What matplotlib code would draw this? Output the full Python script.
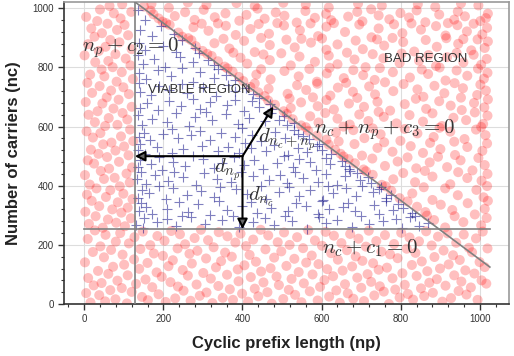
import matplotlib
matplotlib.use("Agg")
import matplotlib.pyplot as plt
from matplotlib.ticker import MultipleLocator

plt.rcParams['font.family'] = ['Liberation Sans', 'DejaVu Sans']
plt.rcParams['mathtext.fontset'] = 'cm'

# bad samples below nc + c1 = 0
low_np = [
    2, 5, 9, 10, 16, 22, 24, 27, 35, 38, 41, 44, 50, 53, 54, 61, 66, 68, 73, 79,
    80, 84, 91, 95, 97, 101, 108, 110, 113, 120, 126, 127, 131, 139, 142, 146, 148, 155, 160, 161,
    167, 172, 176, 183, 185, 188, 196, 199, 203, 206, 213, 218, 220, 224, 230, 236, 237, 242, 249, 251,
    255, 262, 266, 269, 272, 279, 284, 286, 292, 295, 301, 308, 309, 313, 320, 324, 327, 333, 339, 340,
    346, 350, 356, 361, 362, 368, 373, 376, 382, 388, 390, 395, 399, 405, 409, 414, 418, 421, 427, 431,
    434, 440, 446, 447, 453, 458, 463, 465, 471, 474, 480, 486, 489, 492, 498, 503, 505, 511, 517, 519,
    524, 531, 533, 538, 542, 549, 553, 555, 561, 566, 570, 575, 577, 583, 590, 592, 596, 601, 607, 610,
    614, 619, 624, 629, 631, 637, 641, 646, 650, 653, 659, 664, 666, 672, 677, 680, 686, 690, 693, 700,
    703, 707, 712, 716, 719, 725, 730, 733, 738, 744, 747, 751, 757, 760, 765, 770, 773, 779, 783, 786,
    792, 797, 801, 804, 810, 815, 818, 822, 828, 831, 837, 840, 846, 851, 853, 859, 864, 867, 872, 878,
    881, 885, 891, 894, 899, 905, 908, 913, 918, 921, 927, 932, 935, 940, 946, 949, 953, 959, 963, 966,
    972, 977, 980, 986, 990, 994, 999, 1004, 1007, 1012, 1016, 1019,
]
low_nc = [
    141, 37, 220, 88, 5, 176, 63, 249, 112, 30, 195, 71, 158, 9, 234, 102, 47, 183, 126, 16,
    211, 79, 240, 54, 167, 133, 2, 97, 205, 41, 151, 226, 68, 119, 186, 24, 245, 83, 139, 13,
    199, 57, 171, 107, 230, 33, 92, 163, 214, 7, 128, 74, 247, 148, 19, 188, 59, 236, 115, 45,
    202, 96, 170, 11, 137, 223, 66, 180, 28, 251, 105, 154, 39, 216, 86, 3, 192, 124, 61, 243,
    145, 21, 174, 99, 229, 50, 160, 14, 208, 117, 77, 238, 35, 131, 196, 8, 166, 91, 218, 52,
    143, 26, 251, 110, 73, 185, 40, 232, 121, 1, 157, 93, 209, 64, 178, 17, 242, 129, 48, 200,
    85, 153, 31, 226, 108, 6, 189, 70, 140, 250, 43, 164, 100, 215, 12, 135, 58, 197, 81, 244,
    118, 25, 172, 94, 231, 46, 150, 4, 206, 113, 67, 182, 36, 237, 127, 18, 161, 89, 221, 55,
    146, 10, 194, 101, 248, 75, 138, 29, 213, 116, 60, 177, 42, 233, 123, 0, 168, 87, 203, 49,
    155, 22, 241, 104, 65, 187, 34, 225, 132, 15, 173, 95, 212, 53, 144, 27, 246, 111, 72, 198,
    38, 159, 84, 228, 120, 8, 181, 62, 239, 134, 20, 165, 97, 207, 44, 149, 76, 235, 114, 32,
    190, 56, 175, 103, 222, 14, 142, 80, 245, 125, 69, 188,
]

# bad samples left of np + c2 = 0
left_nc = [
    258, 263, 271, 275, 286, 290, 297, 309, 312, 320, 326, 331, 344, 349, 355, 362, 370, 373, 385, 391,
    398, 404, 411, 423, 427, 436, 441, 450, 458, 462, 475, 481, 486, 497, 503, 508, 519, 522, 533, 540,
    546, 551, 563, 567, 578, 584, 590, 602, 606, 615, 624, 629, 640, 646, 652, 661, 667, 678, 683, 691,
    699, 710, 714, 722, 733, 737, 748, 752, 761, 770, 776, 784, 793, 801, 807, 818, 822, 830, 841, 845,
    856, 862, 870, 879, 885, 893, 904, 909, 916, 927, 932, 944, 948, 957, 966, 971, 983, 988, 996, 1008,
    1014,
]
left_np = [
    47, 103, 12, 81, 60, 118, 29, 94, 3, 71, 110, 38, 85, 19, 122, 55, 7, 99, 66, 31,
    90, 14, 115, 50, 77, 2, 107, 42, 63, 121, 25, 88, 9, 58, 112, 36, 79, 17, 101, 48,
    69, 124, 22, 93, 41, 6, 116, 53, 84, 27, 109, 62, 11, 97, 34, 74, 120, 46, 4, 87,
    57, 113, 20, 68, 99, 39, 8, 82, 123, 51, 15, 95, 44, 72, 117, 28, 61, 105, 1, 79,
    37, 120, 54, 10, 89, 66, 26, 111, 45, 83, 18, 102, 59, 33, 92, 5, 75, 119, 40, 64,
    96,
]

# bad samples above nc + np + c3 = 0, (np, nc)
high_points = [
    (912, 259), (1003, 266), (958, 277), (884, 284), (1017, 291), (936, 297), (866, 299),
    (987, 303), (862, 311), (930, 318), (1012, 322), (841, 329), (901, 336), (969, 341), (817, 347), (1020, 349),
    (880, 352), (797, 358), (1009, 361), (944, 368), (829, 374), (776, 383), (991, 386), (912, 391), (858, 395),
    (762, 398), (1018, 399),
    (752, 403), (925, 405), (836, 412), (1004, 417), (781, 422), (968, 426), (880, 431), (729, 437), (1019, 440),
    (806, 443), (945, 446), (712, 449), (861, 450),
    (981, 452), (706, 455), (839, 459), (917, 463), (760, 467), (1012, 470), (684, 476), (873, 479), (792, 482),
    (951, 486), (668, 490), (728, 492), (996, 494), (817, 496), (894, 498), (655, 499),
    (702, 502), (937, 504), (648, 508), (856, 511), (779, 515), (1006, 518), (634, 521), (900, 524), (741, 528),
    (968, 531), (825, 534), (618, 539), (683, 541), (1018, 543), (874, 545), (758, 547), (935, 549), (643, 550),
    (799, 552), (612, 556), (961, 558), (708, 561), (883, 565), (588, 569), (1014, 571), (749, 574), (842, 577),
    (636, 580), (925, 583), (566, 586), (680, 588), (990, 590), (810, 592), (729, 594), (898, 596), (560, 598),
    (1003, 599), (655, 600),
    (904, 602), (548, 604), (671, 607), (1008, 609), (789, 611), (592, 614), (856, 617), (718, 619), (965, 622),
    (527, 625), (640, 627), (933, 630), (757, 633), (571, 635), (1019, 637), (822, 639), (695, 641), (512, 643),
    (880, 645), (609, 646), (987, 648), (744, 650),
    (504, 652), (773, 654), (954, 656), (631, 658), (864, 660), (522, 663), (1011, 665), (707, 667), (590, 669),
    (926, 671), (482, 674), (810, 676), (669, 678), (985, 680), (548, 682), (741, 684), (897, 686), (465, 688),
    (612, 690), (1020, 692), (838, 694), (519, 695), (690, 697), (952, 698), (578, 699),
    (857, 701), (456, 703), (622, 705), (993, 707), (735, 709), (514, 711), (910, 713), (440, 716), (679, 718),
    (781, 720), (1015, 722), (561, 724), (842, 726), (466, 728), (957, 730), (641, 732), (420, 734), (720, 736),
    (885, 738), (538, 740), (1001, 742), (807, 744), (589, 745), (431, 746), (936, 747), (662, 748), (760, 750),
    (588, 752), (402, 754), (913, 756), (734, 758), (471, 760), (1010, 762), (656, 764), (823, 766), (391, 768),
    (542, 770), (968, 772), (705, 774), (435, 776), (869, 778), (613, 780), (1019, 782), (780, 784), (375, 786),
    (506, 788), (941, 790), (680, 791), (853, 793), (447, 794), (569, 795), (995, 796), (362, 797), (747, 798),
    (620, 799), (898, 800),
    (711, 801), (355, 803), (889, 805), (522, 807), (1003, 809), (640, 811), (412, 813), (797, 815), (958, 817),
    (583, 819), (338, 821), (846, 823), (469, 825), (683, 827), (1017, 829), (756, 831), (395, 833), (917, 835),
    (544, 837), (322, 839), (618, 840), (870, 842), (984, 843), (453, 844), (729, 845), (311, 846), (802, 847),
    (498, 848), (941, 849), (664, 850), (377, 850),
    (431, 852), (834, 854), (299, 856), (978, 858), (612, 860), (704, 862), (367, 864), (1012, 866), (532, 868),
    (891, 870), (282, 872), (758, 874), (469, 876), (640, 878), (945, 880), (329, 882), (573, 884), (806, 886),
    (1020, 888), (404, 890), (686, 891), (271, 892), (863, 893), (511, 894), (740, 895), (958, 896), (352, 897),
    (601, 898), (263, 899), (915, 899), (447, 900), (779, 900), (549, 897), (994, 895),
    (726, 902), (248, 904), (591, 906), (913, 908), (383, 910), (1006, 912), (467, 914), (804, 916), (238, 918),
    (659, 920), (967, 922), (314, 924), (545, 926), (851, 928), (420, 930), (744, 932), (1018, 934), (276, 936),
    (612, 938), (889, 940), (358, 941), (505, 942), (943, 943), (216, 944), (695, 945), (783, 946), (441, 947),
    (984, 948), (297, 948), (572, 949), (827, 949), (631, 950), (207, 950), (919, 950), (488, 950), (338, 949),
    (537, 952), (862, 953), (198, 955), (703, 956), (1001, 957), (392, 958), (624, 960), (279, 961), (935, 962),
    (771, 963), (456, 965), (188, 966), (1015, 967), (583, 968), (821, 969), (330, 970), (667, 972), (962, 973),
    (229, 974), (506, 975), (744, 976), (410, 978), (897, 979), (175, 980), (611, 981), (1020, 982), (357, 983),
    (799, 984), (484, 986), (255, 987), (690, 988), (944, 989), (559, 991), (168, 992), (840, 993), (302, 995),
    (725, 997), (438, 999),
    (214, 1002), (618, 1003), (887, 1005), (151, 1006), (431, 1008), (752, 1009), (996, 1010), (309, 1012),
    (560, 1013), (843, 1014), (170, 1015), (692, 1016), (952, 1017), (385, 1018), (503, 1019), (262, 1020),
]

# viable samples, (np, nc)
blue_points = [
    (562, 255), (148, 257), (803, 258), (391, 260), (677, 262), (233, 263), (846, 265), (479, 267), (131, 268),
    (720, 270), (305, 272), (611, 273), (868, 275), (427, 276), (184, 278), (756, 280), (525, 282), (349, 283),
    (640, 285), (209, 287), (788, 288), (458, 290), (152, 292), (593, 293), (822, 294), (271, 296), (700, 297),
    (375, 298), (507, 299), (837, 299), (246, 299),
    (318, 301), (745, 303), (172, 304), (592, 306), (437, 308), (829, 309), (263, 311), (684, 313), (139, 314),
    (515, 316), (781, 318), (360, 319), (619, 321), (210, 323), (806, 324), (472, 326), (653, 328), (155, 329),
    (561, 331), (398, 333), (731, 335), (287, 337), (792, 338), (536, 340), (143, 342), (667, 343), (421, 345),
    (240, 346), (600, 348), (762, 349), (341, 350),
    (604, 352), (207, 354), (459, 356), (763, 358), (136, 360), (329, 362), (688, 364), (542, 366), (260, 368),
    (776, 370), (411, 372), (165, 374), (628, 376), (491, 378), (729, 380), (296, 382), (571, 384), (147, 386),
    (745, 388), (384, 390), (662, 392), (225, 393), (517, 395), (749, 396), (343, 397), (615, 398), (189, 399),
    (446, 399), (703, 400),
    (283, 402), (640, 404), (157, 406), (512, 408), (725, 410), (371, 412), (590, 414), (211, 416), (466, 418),
    (697, 420), (134, 422), (335, 424), (553, 426), (718, 428), (249, 430), (427, 432), (660, 434), (180, 436),
    (496, 438), (612, 440), (303, 442), (689, 443), (397, 445), (144, 446), (532, 447), (227, 448), (671, 449),
    (586, 452), (196, 454), (452, 456), (670, 458), (327, 460), (137, 462), (528, 464), (658, 466), (255, 468),
    (403, 470), (621, 472), (168, 474), (487, 476), (349, 478), (571, 480), (224, 482), (651, 484), (428, 486),
    (140, 488), (543, 490), (301, 492), (610, 494), (378, 496), (190, 498), (505, 499),
    (276, 502), (514, 504), (154, 506), (624, 508), (391, 510), (221, 512), (563, 514), (337, 516), (459, 518),
    (135, 520), (602, 522), (250, 524), (421, 526), (541, 528), (185, 530), (363, 532), (588, 534), (297, 536),
    (480, 538), (141, 540), (593, 542), (406, 545),
    (447, 552), (167, 554), (318, 556), (569, 558), (236, 560), (507, 562), (139, 564), (382, 566), (553, 568),
    (270, 570), (425, 572), (198, 574), (541, 576), (345, 578), (150, 580), (482, 583), (292, 586), (530, 589),
    (222, 593), (398, 597),
    (264, 602), (513, 604), (145, 606), (389, 609), (529, 612), (208, 615), (456, 618), (324, 621), (492, 624),
    (171, 627), (417, 630), (281, 633), (505, 636), (136, 639), (358, 642), (232, 645), (471, 647), (309, 649),
    (403, 652), (187, 655), (474, 658), (292, 661), (141, 664), (441, 667), (245, 670), (362, 673), (470, 676),
    (159, 679), (318, 682), (424, 685), (214, 688), (382, 691), (275, 694), (441, 698),
    (333, 703), (168, 706), (427, 709), (259, 713), (142, 717), (382, 721), (215, 725), (410, 729), (301, 733),
    (188, 737), (364, 741), (246, 745), (139, 748),
    (276, 752), (381, 756), (157, 760), (328, 765), (219, 770), (358, 775), (138, 780), (292, 785), (186, 790),
    (339, 795), (247, 799),
    (203, 802), (327, 807), (149, 812), (274, 818), (312, 824), (176, 830), (241, 836), (135, 842), (289, 848),
    (232, 854), (154, 860), (281, 866), (199, 874), (139, 884), (246, 893),
    (171, 905), (226, 912), (142, 927), (195, 940),
    (153, 962), (137, 995),
]

red_np = low_np + left_np + [p[0] for p in high_points]
red_nc = low_nc + left_nc + [p[1] for p in high_points]
blue_np = [p[0] for p in blue_points]
blue_nc = [p[1] for p in blue_points]

# constraint boundaries
c1 = -253   # nc + c1 = 0
c2 = -128   # np + c2 = 0
c3 = -1150  # nc + np + c3 = 0
line_end = 1025
top = 1022

# point used for the distance arrows
ref_np, ref_nc = 400, 500
diag_tip = (478, 668)

fig = plt.figure(figsize=(5.14, 3.56), dpi=100)
ax = fig.add_axes([0.1245, 0.146, 0.8655, 0.848])

ax.scatter(red_np, red_nc, s=52, c='red', alpha=0.25, edgecolors='none', zorder=2)
ax.scatter(blue_np, blue_nc, s=42, marker='+', c='navy', alpha=0.5, linewidths=0.8, zorder=2)

lc = '0.5'
ax.plot([-c2, -c2], [0, top], color=lc, lw=1.2, zorder=3)
ax.plot([0, line_end], [-c1, -c1], color=lc, lw=1.2, zorder=3)
ax.plot([-c2, line_end], [-c3 + c2, -c3 - line_end], color=lc, lw=1.2, zorder=3)

aprops = dict(arrowstyle='-|>', lw=1.5, edgecolor='black', facecolor='0.4',
              mutation_scale=15, shrinkA=0, shrinkB=0)
ax.annotate('', xy=(-c2, ref_nc), xytext=(ref_np, ref_nc), arrowprops=aprops, zorder=4)
ax.annotate('', xy=(ref_np, -c1), xytext=(ref_np, ref_nc), arrowprops=aprops, zorder=4)
ax.annotate('', xy=diag_tip, xytext=(ref_np, ref_nc), arrowprops=aprops, zorder=4)

tc = '0.2'
ax.text(-5, 868, r'$n_p + c_2 = 0$', fontsize=15, color=tc, va='center', ha='left', zorder=5)
ax.text(580, 590, r'$n_c + n_p + c_3 = 0$', fontsize=15, color=tc, va='center', ha='left', zorder=5)
ax.text(600, 190, r'$n_c + c_1 = 0$', fontsize=15, color=tc, va='center', ha='left', zorder=5)
ax.text(327, 455, r'$d_{n_p}$', fontsize=15, color=tc, va='center', ha='left', zorder=5)
ax.text(415, 363, r'$d_{n_c}$', fontsize=15, color=tc, va='center', ha='left', zorder=5)
ax.text(440, 556, r'$d_{n_c+n_p}$', fontsize=15, color=tc, va='center', ha='left', zorder=5)
ax.text(162, 725, 'VIABLE REGION', fontsize=9.5, color=tc, va='center', ha='left', zorder=5)
ax.text(757, 827, 'BAD REGION', fontsize=9.5, color=tc, va='center', ha='left', zorder=5)

ax.set_xlim(-51, 1073)
ax.set_ylim(0, 1021)
ax.xaxis.set_major_locator(MultipleLocator(200))
ax.yaxis.set_major_locator(MultipleLocator(200))
ax.xaxis.set_minor_locator(MultipleLocator(40))
ax.yaxis.set_minor_locator(MultipleLocator(40))
ax.grid(True, which='major', color='#dddddd', lw=0.8, zorder=0)
ax.set_axisbelow(True)

ax.tick_params(which='major', direction='out', length=4, width=1, labelsize=7,
               colors='#333333', top=False, right=False)
ax.tick_params(which='minor', direction='out', length=2.2, width=0.8,
               colors='#333333', top=False, right=False)
for s in ['left', 'bottom']:
    ax.spines[s].set_color('#333333')
for s in ['top', 'right']:
    ax.spines[s].set_color('#999999')
for s in ax.spines.values():
    s.set_linewidth(1.2)

ax.set_xlabel('Cyclic prefix length (np)', fontsize=12, fontweight='bold', color='#222222', labelpad=8)
ax.set_ylabel('Number of carriers (nc)', fontsize=12, fontweight='bold', color='#222222', labelpad=8)

fig.savefig('out.png', dpi=100)
